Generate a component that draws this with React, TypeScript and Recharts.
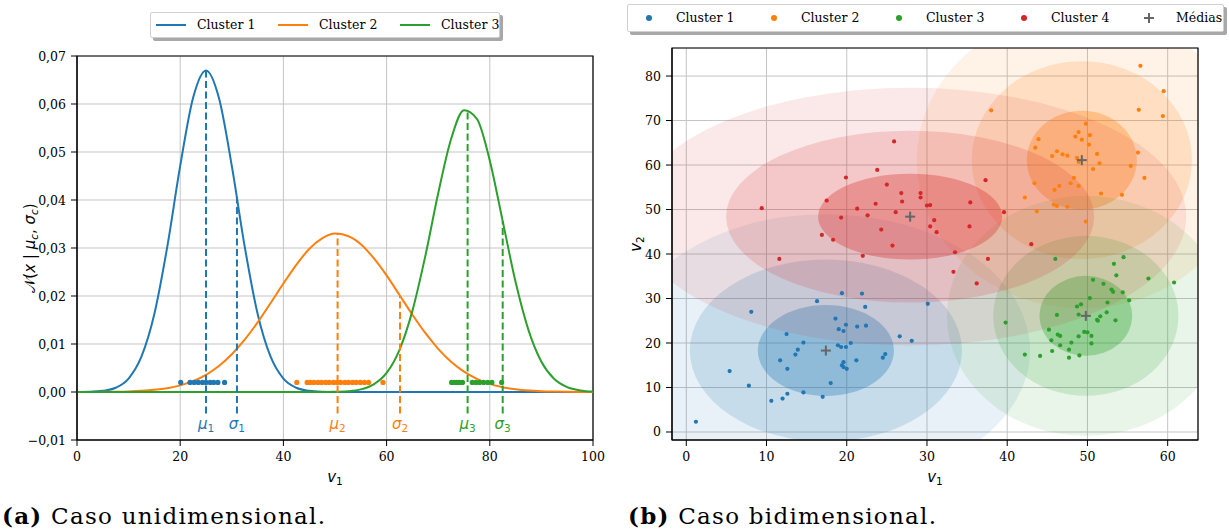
import React from "react";
import {
  ComposedChart,
  ScatterChart,
  Line,
  Scatter,
  XAxis,
  YAxis,
  CartesianGrid,
  ReferenceLine,
  ReferenceArea,
  ReferenceDot,
} from "recharts";

const BLUE = "#1f77b4";
const ORANGE = "#ff7f0e";
const GREEN = "#2ca02c";
const RED = "#d62728";
const GRID = "#c4c4c4";
const SERIF = "'DejaVu Serif', 'Liberation Serif', serif";
const MATH = "'DejaVu Sans', sans-serif";

// ---------- (a) 1D case ----------
const XS = [
  0, 2.5, 5, 7.5, 10, 12.5, 15, 17.5, 20, 22.5, 25, 27.5, 30, 32.5, 35, 37.5, 40,
  42.5, 45, 47.5, 50, 52.5, 55, 57.5, 60, 62.5, 65, 67.5, 70, 72.5, 75, 77.5, 80,
  82.5, 85, 87.5, 90, 92.5, 95, 97.5, 100,
];
const PDF_1 = [
  0.00001, 0.00005, 0.00024, 0.00088, 0.0028, 0.0074, 0.0163, 0.0303, 0.0471,
  0.0613, 0.067, 0.0613, 0.0471, 0.0303, 0.0163, 0.0074, 0.0028, 0.00088,
  0.00024, 0.00005, 0, 0, 0, 0, 0, 0, 0, 0, 0, 0, 0, 0, 0, 0, 0, 0, 0, 0, 0, 0, 0,
];
const PDF_2 = [
  0.00001, 0.00002, 0.00003, 0.00006, 0.00012, 0.00024, 0.00045, 0.0008,
  0.00138, 0.00227, 0.00358, 0.0054, 0.00786, 0.0109, 0.0145, 0.0185, 0.0226,
  0.0265, 0.0298, 0.032, 0.033, 0.0325, 0.0308, 0.0279, 0.0243, 0.0202, 0.0161,
  0.0123, 0.009, 0.0063, 0.00425, 0.00274, 0.00169, 0.001, 0.00057, 0.00031,
  0.00016, 0.00008, 0.00004, 0.00002, 0.00001,
];
const PDF_3 = [
  0, 0, 0, 0, 0, 0, 0, 0, 0, 0, 0, 0, 0, 0, 0, 0, 0, 0, 0, 0.00001, 0.00004,
  0.00016, 0.00054, 0.00158, 0.00397, 0.0088, 0.0169, 0.0283, 0.0414, 0.0527,
  0.0587, 0.0569, 0.0482, 0.0356, 0.0229, 0.0129, 0.0063, 0.0027, 0.001,
  0.00032, 0.00009,
];

const MU = [25, 50.5, 75.7];
const MU_TOP = [0.067, 0.033, 0.0587];
const SIGMA_AT = [31, 62.6, 82.5];
const SIGMA_TOP = [0.0406, 0.02, 0.0356];
const DASH_BOTTOM = -0.0045;
const MARK_LABEL_Y = -0.0067;

const PTS_1 = [20.1, 21.9, 22.7, 23.5, 24.3, 25.0, 25.8, 26.5, 27.3, 28.6];
const PTS_2 = [
  42.6, 44.6, 45.2, 45.9, 46.7, 47.4, 48.2, 48.9, 49.7, 50.4, 51.1, 51.9, 52.6,
  53.4, 54.1, 54.9, 55.7, 56.5, 59.3,
];
const PTS_3 = [72.6, 73.1, 73.6, 74.1, 74.7, 76.6, 77.3, 78.0, 78.8, 79.6, 80.4, 82.3];
const PTS_LEVEL = 0.002;

const X_TICKS_A = [0, 20, 40, 60, 80, 100];
const Y_TICKS_A = [-0.01, 0, 0.01, 0.02, 0.03, 0.04, 0.05, 0.06, 0.07];

// ---------- (b) 2D case ----------
const X_1 = [19.4, 21.9, 16.3, 30.1, 22.3, 8.1, 18.6, 19.9, 21.3, 22.4, 19.0, 19.6, 12.5, 26.6, 28.1, 14.6, 20.5, 18.9, 19.3, 19.9, 13.9, 13.6, 24.8, 24.5, 11.7, 21.2, 19.6, 19.4, 19.6, 20.0, 12.6, 5.4, 18.0, 7.8, 14.6, 12.6, 12.0, 17.0, 10.6, 1.2];
const Y_1 = [31.2, 31.1, 29.4, 28.8, 28.1, 27.0, 25.5, 24.1, 23.7, 23.9, 23.1, 22.7, 22.0, 21.5, 20.5, 20.1, 20.0, 19.5, 19.1, 19.1, 18.5, 17.4, 17.5, 16.7, 16.1, 16.1, 15.7, 15.0, 14.6, 14.2, 14.2, 13.7, 11.0, 10.4, 8.9, 8.6, 7.5, 7.9, 7.0, 2.3];

const X_2 = [56.6, 59.5, 56.4, 59.4, 38.0, 49.8, 48.9, 48.5, 50.3, 49.3, 43.9, 50.2, 43.5, 46.2, 51.2, 45.6, 46.9, 47.5, 48.7, 48.9, 51.5, 56.3, 55.4, 50.7, 57.1, 48.3, 43.4, 47.9, 46.5, 48.9, 45.9, 51.7, 54.3, 42.2, 45.8, 46.2, 47.5, 43.7, 49.8];
const Y_2 = [82.3, 76.6, 72.4, 71.0, 72.3, 69.3, 67.4, 66.4, 66.7, 65.7, 65.8, 64.6, 63.9, 63.1, 62.5, 62.0, 62.4, 62.1, 61.6, 60.7, 60.4, 62.8, 59.8, 59.1, 57.1, 57.1, 55.9, 55.9, 55.3, 55.3, 54.4, 53.6, 53.3, 52.7, 51.1, 50.8, 50.6, 49.6, 47.3];

const X_3 = [54.5, 46.0, 53.3, 53.6, 57.6, 60.8, 50.7, 52.0, 53.0, 53.2, 54.4, 55.2, 50.3, 52.5, 49.2, 48.7, 52.4, 48.9, 46.2, 51.6, 51.2, 51.3, 53.5, 39.8, 45.2, 49.6, 50.0, 46.3, 46.6, 48.9, 50.5, 45.5, 48.0, 50.5, 46.6, 47.7, 45.6, 42.2, 44.1, 49.0, 47.7];
const Y_3 = [39.3, 38.9, 37.8, 35.2, 34.5, 33.6, 34.2, 33.3, 32.0, 31.5, 31.4, 29.6, 30.1, 29.1, 28.7, 28.2, 26.9, 26.4, 26.3, 26.0, 25.2, 25.0, 25.1, 24.6, 23.0, 22.5, 22.4, 21.9, 21.6, 21.5, 21.6, 20.6, 20.1, 19.9, 19.5, 18.5, 18.2, 17.4, 17.1, 17.2, 16.7];

const X_4 = [25.9, 23.8, 19.9, 25.0, 26.8, 29.2, 29.2, 26.9, 23.6, 17.5, 9.4, 21.3, 30.0, 30.4, 26.1, 22.6, 19.3, 30.9, 30.4, 31.2, 24.3, 16.9, 18.3, 25.7, 11.6, 22.0, 37.3, 35.4, 39.6, 35.3, 43.0, 33.5, 37.6, 33.3, 36.2];
const Y_4 = [65.3, 58.9, 57.2, 55.6, 53.7, 53.7, 52.7, 51.8, 51.3, 52.0, 50.3, 50.2, 50.9, 51.0, 49.4, 48.7, 48.2, 47.6, 46.2, 44.9, 45.5, 44.3, 43.2, 41.9, 38.9, 39.6, 56.6, 51.6, 49.4, 46.2, 42.2, 40.4, 38.9, 36.0, 33.4];

// cluster order: 1 blue, 2 orange, 3 green, 4 red
const MEAN_X = [17.4, 49.3, 49.8, 27.9];
const MEAN_Y = [18.3, 61.1, 26.1, 48.4];
const SPREAD_X = [8.48, 6.86, 5.77, 11.47];
const SPREAD_Y = [10.22, 11.12, 8.99, 9.66];
const LEVELS = [3, 2, 1];
const LEVEL_ALPHA = [0.1, 0.17, 0.33];

const X_TICKS_B = [0, 10, 20, 30, 40, 50, 60];
const Y_TICKS_B = [0, 10, 20, 30, 40, 50, 60, 70, 80];

const COLORS = [BLUE, ORANGE, GREEN, RED];
const CLUSTERS = [
  [X_1, Y_1],
  [X_2, Y_2],
  [X_3, Y_3],
  [X_4, Y_4],
];

const curveRows = XS.map((x, i) => ({ x, c1: PDF_1[i], c2: PDF_2[i], c3: PDF_3[i] }));
const toRow = (xs: number[]) => xs.map((x) => ({ x, y: PTS_LEVEL }));
const zip = (xs: number[], ys: number[]) => xs.map((x, i) => ({ x, y: ys[i] }));

const fmtComma = (v: number) =>
  (v < 0 ? "\u2212" : "") + Math.abs(v).toFixed(2).replace(".", ",");

// serif tick labels
const xTick = (p: any) => (
  <text x={p.x} y={p.y + 1} textAnchor="middle" dominantBaseline="hanging" fontFamily={SERIF} fontSize={12.5} fill="#000">
    {p.payload.value}
  </text>
);
const yTick = (fmt?: (v: number) => string) => (p: any) => (
  <text x={p.x} y={p.y} textAnchor="end" dominantBaseline="central" fontFamily={SERIF} fontSize={12.5} fill="#000">
    {fmt ? fmt(p.payload.value) : p.payload.value}
  </text>
);

const dot = (color: string, r: number) => (p: any) =>
  <circle cx={p.cx} cy={p.cy} r={r} fill={color} />;

const plus = (p: any) => (
  <g stroke="#666" strokeWidth={2}>
    <line x1={p.cx - 5} x2={p.cx + 5} y1={p.cy} y2={p.cy} />
    <line x1={p.cx} x2={p.cx} y1={p.cy - 5} y2={p.cy + 5} />
  </g>
);

const ellipseShape = (color: string, alpha: number) => (p: any) => (
  <ellipse
    cx={p.x + p.width / 2}
    cy={p.y + p.height / 2}
    rx={Math.abs(p.width) / 2}
    ry={Math.abs(p.height) / 2}
    fill={color}
    fillOpacity={alpha}
    stroke="none"
    clipPath={p.clipPath}
  />
);

const markLabel = (sym: string, sub: string, color: string) => (p: any) => (
  <text
    x={p.cx}
    y={p.cy}
    fill={color}
    textAnchor="middle"
    dominantBaseline="central"
    fontFamily={MATH}
    fontSize={15}
  >
    <tspan fontStyle="italic">{sym}</tspan>
    <tspan fontSize={10.5} dy={4}>{sub}</tspan>
  </text>
);

function ChartA() {
  const cols = [BLUE, ORANGE, GREEN];
  const pts = [PTS_1, PTS_2, PTS_3];
  return (
    <ComposedChart
      width={620}
      height={531}
      data={curveRows}
      margin={{ top: 56, right: 27, bottom: 61, left: 27 }}
    >
      <CartesianGrid stroke={GRID} />
      <XAxis
        type="number"
        dataKey="x"
        domain={[0, 100]}
        ticks={X_TICKS_A}
        tick={xTick}
        tickLine={{ stroke: "#000" }}
        axisLine={{ stroke: "#000" }}
        tickMargin={4}
        height={30}
        allowDataOverflow
      />
      <YAxis
        type="number"
        domain={[-0.01, 0.07]}
        ticks={Y_TICKS_A}
        tick={yTick(fmtComma)}
        tickLine={{ stroke: "#000" }}
        axisLine={{ stroke: "#000" }}
        tickMargin={5}
        width={50}
        allowDataOverflow
      />
      {["c1", "c2", "c3"].map((k, i) => (
        <Line
          key={k}
          type="monotone"
          dataKey={k}
          stroke={cols[i]}
          strokeWidth={2}
          dot={false}
          isAnimationActive={false}
        />
      ))}
      {pts.map((p, i) => (
        <Scatter
          key={"p" + i}
          data={toRow(p)}
          dataKey="y"
          shape={dot(cols[i], 2.6)}
          isAnimationActive={false}
        />
      ))}
      {MU.map((m, i) => (
        <ReferenceLine
          key={"mu" + i}
          segment={[
            { x: m, y: DASH_BOTTOM },
            { x: m, y: MU_TOP[i] },
          ]}
          stroke={cols[i]}
          strokeWidth={2}
          strokeDasharray="7 3.5"
        />
      ))}
      {SIGMA_AT.map((s, i) => (
        <ReferenceLine
          key={"sg" + i}
          segment={[
            { x: s, y: DASH_BOTTOM },
            { x: s, y: SIGMA_TOP[i] },
          ]}
          stroke={cols[i]}
          strokeWidth={2}
          strokeDasharray="7 3.5"
        />
      ))}
      {MU.map((m, i) => (
        <ReferenceDot
          key={"lm" + i}
          x={m}
          y={MARK_LABEL_Y}
          r={0}
          shape={markLabel("\u03bc", String(i + 1), cols[i])}
        />
      ))}
      {SIGMA_AT.map((s, i) => (
        <ReferenceDot
          key={"ls" + i}
          x={s}
          y={MARK_LABEL_Y}
          r={0}
          shape={markLabel("\u03c3", String(i + 1), cols[i])}
        />
      ))}
      <ReferenceArea x1={0} x2={100} y1={-0.01} y2={0.07} fill="none" stroke="#000" strokeWidth={1.2} />
    </ComposedChart>
  );
}

function ChartB() {
  return (
    <ScatterChart
      width={609}
      height={531}
      margin={{ top: 48, right: 31, bottom: 61, left: 12 }}
    >
      <CartesianGrid stroke={GRID} />
      <XAxis
        type="number"
        dataKey="x"
        domain={[-1.78, 63.78]}
        ticks={X_TICKS_B}
        tick={xTick}
        tickLine={{ stroke: "#000" }}
        axisLine={{ stroke: "#000" }}
        tickMargin={4}
        height={30}
        allowDataOverflow
      />
      <YAxis
        type="number"
        dataKey="y"
        domain={[-1.8, 86.3]}
        ticks={Y_TICKS_B}
        tick={yTick()}
        tickLine={{ stroke: "#000" }}
        axisLine={{ stroke: "#000" }}
        tickMargin={5}
        width={40}
        allowDataOverflow
      />
      {COLORS.map((c, k) =>
        LEVELS.map((n, j) => (
          <ReferenceArea
            key={"e" + k + "-" + j}
            x1={MEAN_X[k] - n * SPREAD_X[k]}
            x2={MEAN_X[k] + n * SPREAD_X[k]}
            y1={MEAN_Y[k] - n * SPREAD_Y[k]}
            y2={MEAN_Y[k] + n * SPREAD_Y[k]}
            ifOverflow="hidden"
            shape={ellipseShape(c, LEVEL_ALPHA[j])}
          />
        ))
      )}
      {CLUSTERS.map(([xs, ys], k) => (
        <Scatter
          key={"s" + k}
          data={zip(xs, ys)}
          shape={dot(COLORS[k], 2.1)}
          isAnimationActive={false}
        />
      ))}
      <Scatter data={zip(MEAN_X, MEAN_Y)} shape={plus} isAnimationActive={false} />
      <ReferenceArea x1={-1.78} x2={63.78} y1={-1.8} y2={86.3} fill="none" stroke="#000" strokeWidth={1.2} />
    </ScatterChart>
  );
}

const legendBox: React.CSSProperties = {
  position: "absolute",
  background: "#fff",
  border: "1px solid #d0d0d0",
  borderRadius: 2,
  boxShadow: "3px 3px 0 #a8a8a8",
  fontFamily: SERIF,
  fontSize: 12.5,
  color: "#000",
};

function LegendA() {
  const names = ["Cluster 1", "Cluster 2", "Cluster 3"];
  const cols = [BLUE, ORANGE, GREEN];
  return (
    <div style={{ ...legendBox, left: 150, top: 12, width: 348, height: 24 }}>
      {names.map((n, i) => (
        <React.Fragment key={n}>
          <div style={{ position: "absolute", left: 5 + i * 122, top: 11, width: 30, height: 2, background: cols[i] }} />
          <div style={{ position: "absolute", left: 46 + i * 122, top: 3, lineHeight: "18px", whiteSpace: "nowrap" }}>{n}</div>
        </React.Fragment>
      ))}
    </div>
  );
}

function LegendB() {
  const names = ["Cluster 1", "Cluster 2", "Cluster 3", "Cluster 4"];
  return (
    <div style={{ ...legendBox, left: 627, top: 4, width: 595, height: 26 }}>
      {names.map((n, i) => (
        <React.Fragment key={n}>
          <div style={{ position: "absolute", left: 18 + i * 125, top: 10, width: 6, height: 6, borderRadius: 3, background: COLORS[i] }} />
          <div style={{ position: "absolute", left: 48 + i * 125, top: 4, lineHeight: "18px", whiteSpace: "nowrap" }}>{n}</div>
        </React.Fragment>
      ))}
      <svg style={{ position: "absolute", left: 515, top: 7 }} width={12} height={12}>
        <g stroke="#666" strokeWidth={2}>
          <line x1={1} x2={11} y1={6} y2={6} />
          <line x1={6} x2={6} y1={1} y2={11} />
        </g>
      </svg>
      <div style={{ position: "absolute", left: 548, top: 4, lineHeight: "18px", whiteSpace: "nowrap" }}>Médias</div>
    </div>
  );
}

function SubLabel({ x, y, base, sub, rotate }: { x: number; y: number; base: string; sub: string; rotate?: boolean }) {
  return (
    <text
      x={x}
      y={y}
      textAnchor="middle"
      dominantBaseline="central"
      fontFamily={MATH}
      fontSize={15}
      fill="#000"
      transform={rotate ? `rotate(-90 ${x} ${y})` : undefined}
    >
      <tspan fontStyle="italic">{base}</tspan>
      <tspan fontSize={10.5} dy={4}>{sub}</tspan>
    </text>
  );
}

function Overlay() {
  return (
    <svg
      width={1229}
      height={531}
      style={{ position: "absolute", left: 0, top: 0, pointerEvents: "none" }}
    >
      <SubLabel x={335} y={477} base="v" sub="1" />
      <SubLabel x={935} y={477} base="v" sub="1" />
      <SubLabel x={636} y={244} base="v" sub="2" rotate />
      <text
        x={30}
        y={248}
        textAnchor="middle"
        dominantBaseline="central"
        fontFamily={MATH}
        fontSize={15}
        transform="rotate(-90 30 248)"
      >
        <tspan>{"\ud835\udca9("}</tspan>
        <tspan fontStyle="italic">x</tspan>
        <tspan>{" | "}</tspan>
        <tspan fontStyle="italic">{"\u03bc"}</tspan>
        <tspan fontStyle="italic" fontSize={10.5} dy={4}>c</tspan>
        <tspan dy={-4}>{", "}</tspan>
        <tspan fontStyle="italic">{"\u03c3"}</tspan>
        <tspan fontStyle="italic" fontSize={10.5} dy={4}>c</tspan>
        <tspan dy={-4}>)</tspan>
      </text>
      <text x={2} y={524} fontFamily={SERIF} fontSize={23} textLength={323} lengthAdjust="spacing">
        <tspan fontWeight="bold">(a)</tspan> Caso unidimensional.
      </text>
      <text x={628} y={524} fontFamily={SERIF} fontSize={23} textLength={308} lengthAdjust="spacing">
        <tspan fontWeight="bold">(b)</tspan> Caso bidimensional.
      </text>
    </svg>
  );
}

export default function App() {
  return (
    <div style={{ position: "absolute", left: 0, top: 0, width: 1229, height: 531, background: "#fff" }}>
      <div style={{ position: "absolute", left: 0, top: 0 }}>
        <ChartA />
      </div>
      <div style={{ position: "absolute", left: 620, top: 0 }}>
        <ChartB />
      </div>
      <LegendA />
      <LegendB />
      <Overlay />
    </div>
  );
}
